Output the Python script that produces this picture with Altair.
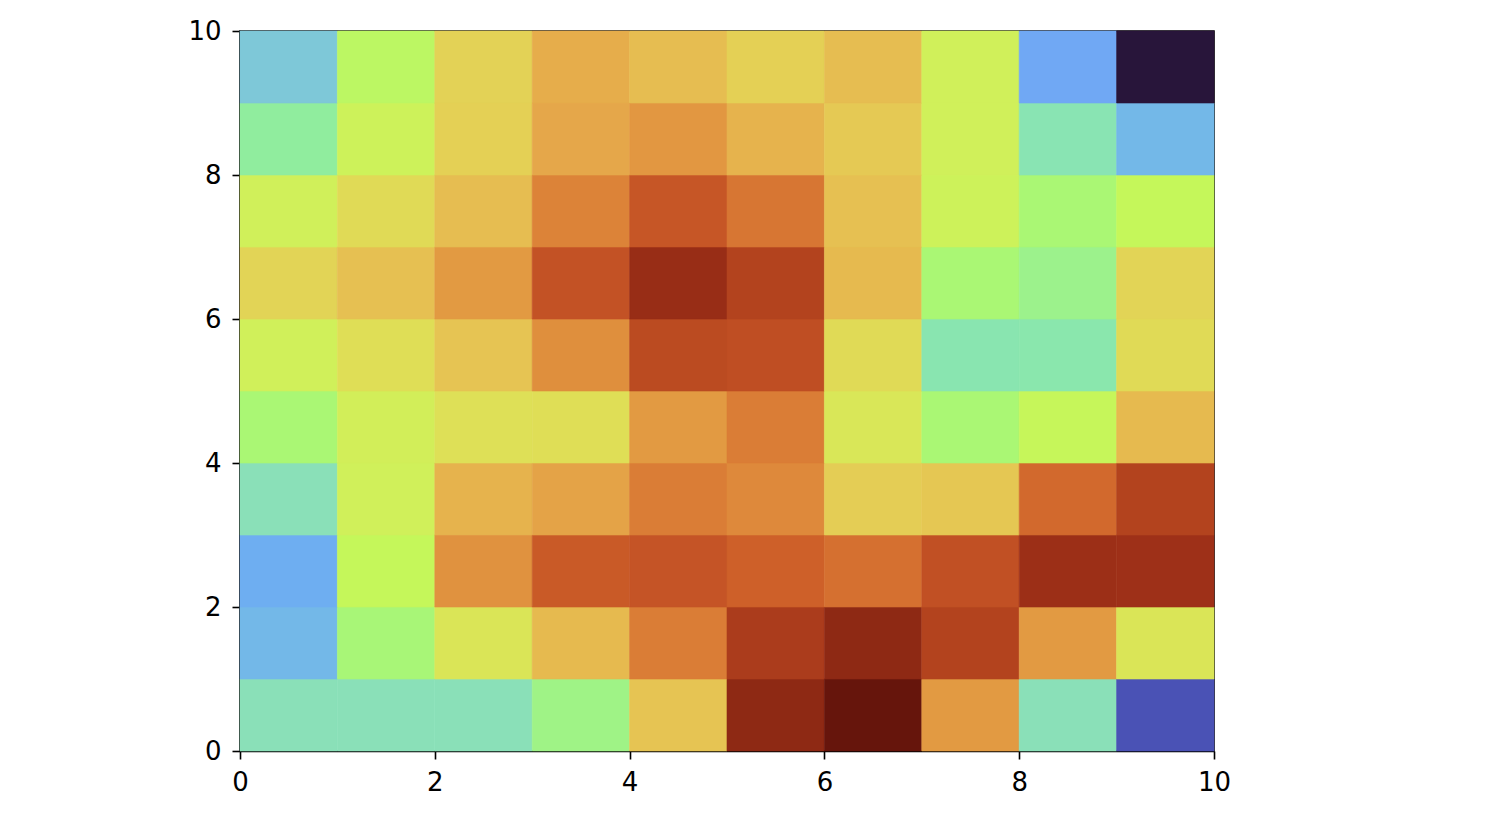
import altair as alt
import pandas as pd

# cell values, rows listed from top (y=9..10) to bottom (y=0..1)
row_y9 = [0.215, 0.40, 0.54, 0.61, 0.585, 0.545, 0.585, 0.46, 0.16, 0.00]
row_y8 = [0.30, 0.45, 0.545, 0.62, 0.655, 0.60, 0.56, 0.46, 0.27, 0.19]
row_y7 = [0.46, 0.52, 0.585, 0.69, 0.77, 0.71, 0.58, 0.45, 0.36, 0.42]
row_y6 = [0.535, 0.58, 0.65, 0.78, 0.875, 0.82, 0.59, 0.36, 0.32, 0.535]
row_y5 = [0.46, 0.51, 0.57, 0.67, 0.80, 0.79, 0.52, 0.275, 0.28, 0.52]
row_y4 = [0.36, 0.465, 0.505, 0.51, 0.65, 0.70, 0.485, 0.36, 0.425, 0.59]
row_y3 = [0.26, 0.46, 0.60, 0.63, 0.70, 0.68, 0.55, 0.565, 0.73, 0.82]
row_y2 = [0.17, 0.42, 0.665, 0.76, 0.775, 0.745, 0.72, 0.785, 0.865, 0.86]
row_y1 = [0.19, 0.355, 0.49, 0.59, 0.70, 0.835, 0.90, 0.82, 0.65, 0.49]
row_y0 = [0.26, 0.26, 0.26, 0.33, 0.57, 0.90, 1.00, 0.65, 0.26, 0.08]

rows = [row_y0, row_y1, row_y2, row_y3, row_y4, row_y5, row_y6, row_y7, row_y8, row_y9]

# colour ramp
ramp_stops = [0.00, 0.08, 0.16, 0.20, 0.215, 0.26, 0.32, 0.36, 0.42, 0.46, 0.50, 0.54,
              0.58, 0.62, 0.66, 0.70, 0.74, 0.78, 0.82, 0.86, 0.90, 1.00]
ramp_colors = ["#28153a", "#4a52b5", "#70a8f4", "#79bce4", "#7ec8d8", "#8ae0b8",
               "#9cf28c", "#aaf774", "#c5f75a", "#d0f05a", "#dde257", "#e3d256",
               "#e6c052", "#e5a74a", "#e19540", "#da7d36", "#cf622a", "#c35225",
               "#b3431e", "#9e3018", "#8e2914", "#66150c"]

ticks = [0, 2, 4, 6, 8, 10]

records = []
for j, row in enumerate(rows):
    for i, v in enumerate(row):
        records.append({"x": i, "x2": i + 1, "y": j, "y2": j + 1, "v": v})
df = pd.DataFrame(records)

axis_common = dict(
    values=ticks, grid=False, domainColor="black", domainWidth=1.6,
    tickColor="black", tickWidth=1.6, tickSize=8, labelFont="DejaVu Sans",
    labelFontSize=26, labelColor="black", labelFlush=False,
    title=None,
)

color_scale = alt.Scale(domain=ramp_stops, range=ramp_colors)

chart = alt.Chart(df).mark_rect(strokeWidth=0.6).encode(
    x=alt.X("x:Q", scale=alt.Scale(domain=[0, 10], nice=False, zero=False),
            axis=alt.Axis(labelPadding=10, **axis_common)),
    x2="x2:Q",
    y=alt.Y("y:Q", scale=alt.Scale(domain=[0, 10], nice=False, zero=False),
            axis=alt.Axis(labelPadding=11, **axis_common)),
    y2="y2:Q",
    color=alt.Color("v:Q", scale=color_scale, legend=None),
    stroke=alt.Stroke("v:Q", scale=color_scale, legend=None),
).properties(
    width=974, height=720,
    autosize=alt.AutoSizeParams(type="none"),
    padding={"left": 232, "top": 23, "right": 20, "bottom": 60},
).configure_view(stroke="black", strokeWidth=1.6)

chart.save("out.html", embed_options={"renderer": "svg", "actions": False})
